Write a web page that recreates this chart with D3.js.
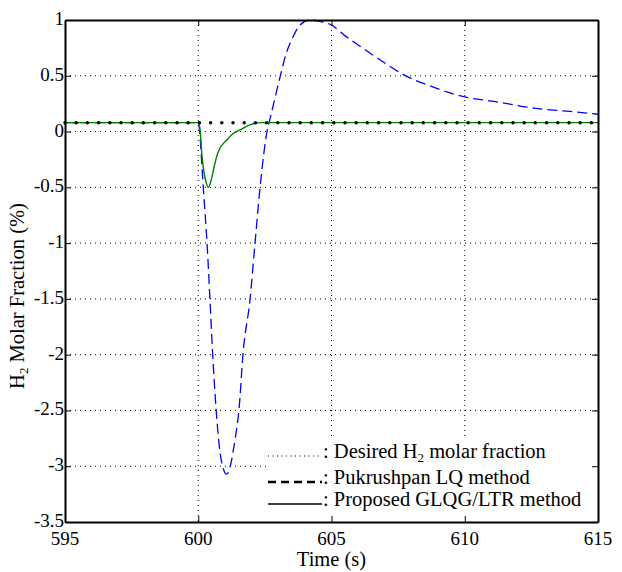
<!DOCTYPE html>
<html>
<head>
<meta charset="utf-8">
<script src="https://cdn.jsdelivr.net/npm/d3@7"></script>
<style>
  body { margin: 0; background: #fff; }
  svg text { font-family: "Liberation Serif", "Times New Roman", serif; fill: #000; }
</style>
</head>
<body>
<svg id="chart" width="622" height="572"></svg>
<script>
// time axis ticks and y ticks
let xTicks = [595, 600, 605, 610, 615];
let yTicks = [-3.5, -3, -2.5, -2, -1.5, -1, -0.5, 0, 0.5, 1];

// desired H2 molar fraction (constant)
let desiredT = [595, 615];
let desiredY = [0.08, 0.08];

// Pukrushpan LQ method
let lqT = [595, 600, 600.07, 600.13, 600.22, 600.33, 600.44, 600.54, 600.67, 600.82, 600.95, 601.04, 601.12, 601.19, 601.38, 601.53,
    601.68, 601.94, 602.13, 602.32, 602.58, 602.7, 603.07, 603.3, 603.56, 603.8, 604.2, 604.5, 605, 605.5, 606.1, 606.9, 607.7, 608.8,
    610, 611.1, 612.6, 613.95, 615];
let lqY = [0.08, 0.08, -0.05, -0.28, -0.61, -1.0, -1.51, -1.99, -2.49, -2.88, -3.03, -3.07, -3.06, -3.01, -2.76, -2.49,
    -1.99, -1.51, -1.0, -0.5, 0.0, 0.12, 0.49, 0.7, 0.85, 0.95, 1.0, 0.99, 0.955, 0.86, 0.76, 0.63, 0.51, 0.4,
    0.31, 0.27, 0.21, 0.18, 0.155];

// proposed GLQG/LTR method
let glqT = [595, 600, 600.07, 600.13, 600.22, 600.3, 600.38, 600.5, 600.63, 600.75, 601.07, 601.3, 601.57, 601.94, 602.3, 603, 615];
let glqY = [0.08, 0.08, 0.015, -0.19, -0.37, -0.46, -0.5, -0.42, -0.28, -0.18, -0.075, -0.02, 0.015, 0.06, 0.08, 0.08, 0.08];

let legendLabels = ["Desired", "Pukrushpan LQ method", "Proposed GLQG/LTR method"];

let svg = d3.select("#chart");
let margin = {left: 65, top: 20, right: 24, bottom: 50};
let width = 622 - margin.left - margin.right,
    height = 572 - margin.top - margin.bottom;

let g = svg.append("g").attr("transform", "translate(" + margin.left + "," + margin.top + ")");

let x = d3.scaleLinear().domain([595, 615]).range([0, width]);
let y = d3.scaleLinear().domain([-3.5, 1]).range([height, 0]);

// grid
g.append("g").selectAll("line").data(xTicks.slice(1, -1)).enter().append("line")
    .attr("x1", d => x(d)).attr("x2", d => x(d)).attr("y1", 0).attr("y2", height)
    .attr("stroke", "#000").attr("stroke-width", 1).attr("stroke-dasharray", "1,4");
g.append("g").selectAll("line").data(yTicks.slice(1, -1)).enter().append("line")
    .attr("y1", d => y(d)).attr("y2", d => y(d)).attr("x1", 0).attr("x2", width)
    .attr("stroke", "#000").attr("stroke-width", 1).attr("stroke-dasharray", "1,4");

let line = d3.line().x(d => x(d[0])).y(d => y(d[1]));
let lineSmooth = d3.line().x(d => x(d[0])).y(d => y(d[1])).curve(d3.curveMonotoneX);

g.append("path").datum(d3.zip(lqT, lqY))
    .attr("d", lineSmooth).attr("fill", "none").attr("stroke", "#0000ff")
    .attr("stroke-width", 1.3).attr("stroke-dasharray", "10,5");

g.append("path").datum(d3.zip(glqT, glqY))
    .attr("d", lineSmooth).attr("fill", "none").attr("stroke", "#008000").attr("stroke-width", 1.4);

g.append("path").datum(d3.zip(desiredT, desiredY))
    .attr("d", line).attr("fill", "none").attr("stroke", "#000")
    .attr("stroke-width", 3.5).attr("stroke-linecap", "round").attr("stroke-dasharray", "0,11.2");

// legend
let lg = g.append("g").attr("transform", "translate(" + (266 - margin.left) + "," + (436 - margin.top) + ")");
lg.append("rect").attr("width", width - (266 - margin.left)).attr("height", height - (436 - margin.top)).attr("fill", "#fff");
let rows = [
    {dash: "1,3.5", w: 1.2, y: 20},
    {dash: "8,5", w: 2.4, y: 46},
    {dash: null, w: 1.6, y: 68}
];
rows.forEach(function(r, i) {
    let l = lg.append("line").attr("x1", 2).attr("x2", 56).attr("y1", r.y).attr("y2", r.y)
        .attr("stroke", "#000").attr("stroke-width", r.w);
    if (r.dash) l.attr("stroke-dasharray", r.dash);
    let t = lg.append("text").attr("x", 57).attr("y", r.y + 2).style("font-size", "20.5px");
    if (i === 0) {
        t.append("tspan").text(": Desired H");
        t.append("tspan").attr("dy", 4).style("font-size", "13px").text("2");
        t.append("tspan").attr("dy", -4).text(" molar fraction");
    } else {
        t.text(": " + legendLabels[i]);
    }
});

// axes box with inward ticks (labels drawn separately)
let axB = g.append("g").attr("transform", "translate(0," + height + ")")
    .call(d3.axisBottom(x).tickValues(xTicks).tickSizeInner(-6).tickSizeOuter(0).tickFormat(""));
let axT = g.append("g")
    .call(d3.axisTop(x).tickValues(xTicks).tickSizeInner(-6).tickSizeOuter(0).tickFormat(""));
let axL = g.append("g")
    .call(d3.axisLeft(y).tickValues(yTicks).tickSizeInner(-6).tickSizeOuter(0).tickFormat(""));
let axR = g.append("g").attr("transform", "translate(" + width + ",0)")
    .call(d3.axisRight(y).tickValues(yTicks).tickSizeInner(-6).tickSizeOuter(0).tickFormat(""));
[axB, axT, axL, axR].forEach(function(a) {
    a.select(".domain").attr("stroke", "#000").attr("stroke-width", 2);
    a.selectAll(".tick line").attr("stroke", "#000").attr("stroke-width", 1);
});

// tick labels
g.append("g").selectAll("text").data(xTicks).enter().append("text")
    .attr("x", d => x(d)).attr("y", height + 23).attr("text-anchor", "middle")
    .style("font-size", "19px").text(d => d);
g.append("g").selectAll("text").data(yTicks).enter().append("text")
    .attr("x", -1).attr("y", d => y(d) + 5).attr("text-anchor", "end")
    .style("font-size", "19px").text(d => String(d));

// axis labels
svg.append("text").attr("x", margin.left + x(605)).attr("y", 566).attr("text-anchor", "middle")
    .style("font-size", "20.5px").text("Time (s)");
let yl = svg.append("text").attr("transform", "translate(24,296) rotate(-90)").attr("text-anchor", "middle")
    .style("font-size", "20.5px");
yl.append("tspan").text("H");
yl.append("tspan").attr("dy", 4).style("font-size", "13px").text("2");
yl.append("tspan").attr("dy", -4).text(" Molar Fraction (%)");
</script>
</body>
</html>
